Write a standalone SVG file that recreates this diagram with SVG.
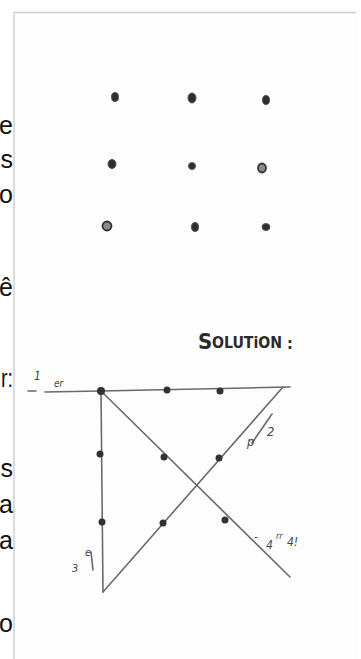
<svg xmlns="http://www.w3.org/2000/svg" width="361" height="659" viewBox="0 0 361 659">
<defs>
<style>
.side{font-family:"Liberation Sans",Arial,sans-serif;font-size:25px;fill:#111;text-anchor:end}
.dot{fill:#2e2e2e;stroke:#555;stroke-width:1}
.ring{fill:#8a8a8a;stroke:#333;stroke-width:1.8}
.sdot{fill:#333}
.ln{stroke:#6a6a6a;stroke-width:1.6;fill:none;stroke-linecap:round}
.hand{font-family:"DejaVu Sans Condensed","DejaVu Sans",sans-serif;fill:#444;font-style:italic}
.sol{font-family:"DejaVu Sans Condensed","DejaVu Sans",sans-serif;fill:#2a2a2a;font-weight:bold}
</style>
<filter id="soft" x="-50%" y="-50%" width="200%" height="200%"><feGaussianBlur stdDeviation="0.5"/></filter>
</defs>
<rect width="361" height="659" fill="#ffffff"/>
<rect x="14" y="12" width="343" height="647" fill="#fdfdfd"/>
<g id="panel-border" stroke="#cfcfcf" stroke-width="1.5" fill="none">
<line x1="14" y1="12.5" x2="356" y2="12.5"/>
<line x1="14" y1="12" x2="14" y2="659"/>
</g>
<g id="side-text">
<text class="side" x="13" y="134">e</text>
<text class="side" x="13" y="168">s</text>
<text class="side" x="13" y="203">o</text>
<text class="side" x="13" y="296">ê</text>
<text class="side" x="13" y="387" textLength="12" lengthAdjust="spacingAndGlyphs">r:</text>
<text class="side" x="13" y="477">s</text>
<text class="side" x="13" y="513">a</text>
<text class="side" x="13" y="549">a</text>
<text class="side" x="13" y="632">o</text>
</g>
<g id="puzzle" filter="url(#soft)">
<g id="p11"><ellipse class="dot" cx="115" cy="97" rx="3.5" ry="4.5"/></g>
<g id="p12"><ellipse class="dot" cx="192" cy="98" rx="4" ry="5"/></g>
<g id="p13"><ellipse class="dot" cx="266" cy="100" rx="3.5" ry="4.5"/></g>
<g id="p21"><ellipse class="dot" cx="112" cy="164" rx="4" ry="4.5"/></g>
<g id="p22"><ellipse class="dot" cx="192" cy="166" rx="3.5" ry="3.5"/></g>
<g id="p23"><ellipse class="ring" cx="262" cy="168" rx="4" ry="4.5"/></g>
<g id="p31"><ellipse class="ring" cx="107" cy="226" rx="4.5" ry="4.5"/></g>
<g id="p32"><ellipse class="dot" cx="195" cy="227" rx="3.5" ry="4.5"/></g>
<g id="p33"><ellipse class="dot" cx="266" cy="227" rx="4" ry="3.5"/></g>
</g>
<g id="solution-title">
<text class="sol" x="198" y="349" font-size="22" font-weight="normal">S</text>
<text class="sol" x="212" y="348" font-size="15" textLength="70" lengthAdjust="spacingAndGlyphs">OLUTiON</text>
<text class="sol" x="287" y="349" font-size="16">:</text>
</g>
<g id="connectors" filter="url(#soft)">
<line class="ln" x1="28" y1="391" x2="36" y2="391"/>
<polyline class="ln" points="45,392 101,391 290,387"/>
<line class="ln" x1="101" y1="391" x2="290" y2="577"/>
<line class="ln" x1="101" y1="391" x2="103" y2="592"/>
<line class="ln" x1="103" y1="592" x2="283" y2="387"/>
<line class="ln" x1="252" y1="443" x2="272" y2="414" stroke-width="1.2"/>
<line class="ln" x1="91" y1="552" x2="93" y2="570" stroke-width="1.2"/>
</g>
<g id="solution-dots" filter="url(#soft)">
<g id="s11"><circle class="sdot" cx="101" cy="391" r="4"/></g>
<g id="s12"><circle class="sdot" cx="167" cy="390" r="3.5"/></g>
<g id="s13"><circle class="sdot" cx="220" cy="391" r="3.5"/></g>
<g id="s21"><circle class="sdot" cx="100" cy="454" r="3.5"/></g>
<g id="s22"><circle class="sdot" cx="164" cy="457" r="3.5"/></g>
<g id="s23"><circle class="sdot" cx="219" cy="458" r="3.5"/></g>
<g id="s31"><circle class="sdot" cx="102" cy="522" r="3.5"/></g>
<g id="s32"><circle class="sdot" cx="163" cy="523" r="3.5"/></g>
<g id="s33"><circle class="sdot" cx="225" cy="520" r="3.5"/></g>
</g>
<g id="labels">
<text class="hand" x="34" y="380" font-size="12">1</text>
<text class="hand" x="54" y="387" font-size="10">er</text>
<text class="hand" x="247" y="446" font-size="13">p</text>
<text class="hand" x="267" y="436" font-size="13">2</text>
<text class="hand" x="72" y="572" font-size="11">3</text>
<text class="hand" x="85" y="556" font-size="11">e</text>
<text class="hand" x="254" y="540" font-size="11">-</text>
<text class="hand" x="266" y="549" font-size="12">4</text>
<text class="hand" x="276" y="539" font-size="9">rr</text>
<text class="hand" x="287" y="546" font-size="12">4!</text>
</g>
</svg>
